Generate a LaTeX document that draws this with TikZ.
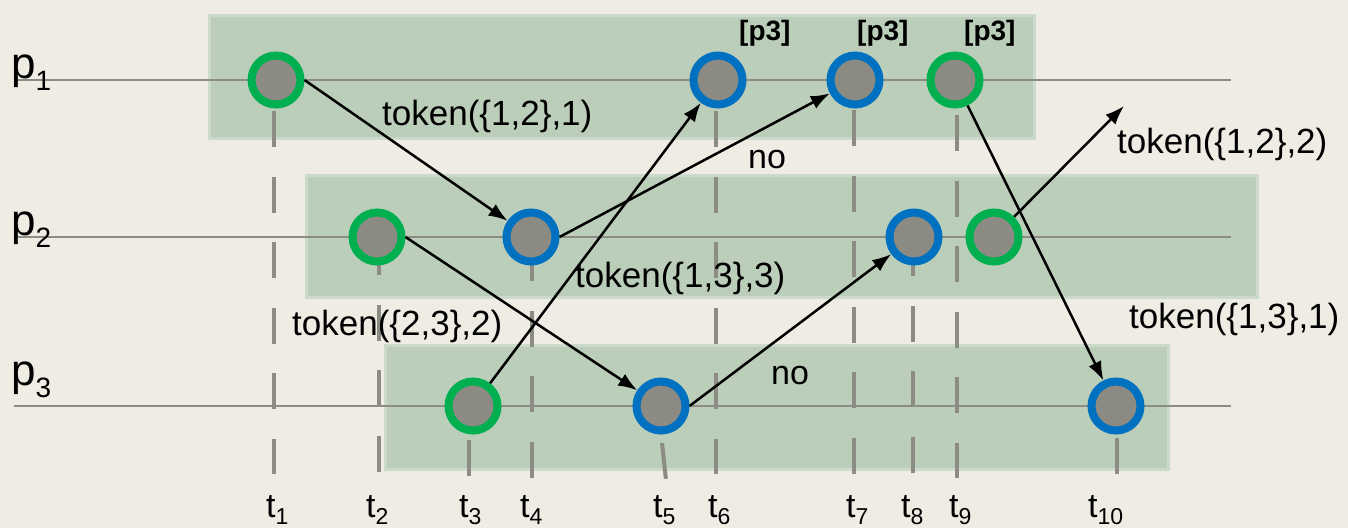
\documentclass[tikz,border=0pt]{standalone}
\usepackage{fontspec}
\setmainfont{Liberation Sans}
\usetikzlibrary{arrows.meta}
\definecolor{paper}{HTML}{EFECE4}
\definecolor{band}{HTML}{BBCEBA}
\definecolor{bandedge}{HTML}{CBDACA}
\definecolor{axis}{HTML}{8C8C85}
\definecolor{core}{HTML}{8B8B84}
\definecolor{sendc}{HTML}{00B050}
\definecolor{recvc}{HTML}{0070C0}
% subscript set in a smaller size, dropped below the baseline
\newcommand\dropsub[3]{\raisebox{-#1}{\fontsize{#2}{#2}\selectfont #3}}

\begin{document}
\begin{tikzpicture}[x=1pt,y=-1pt,
  bandbox/.style={fill=band,draw=bandedge,line width=3pt},
  procline/.style={draw=axis,line width=2pt},
  tick/.style={draw=axis,line width=4pt,dash pattern=on 36pt off 29.5pt},
  ev/.style={circle,fill=core,line width=8pt,minimum size=49pt,inner sep=0pt},
  sendev/.style={ev,draw=sendc},
  recvev/.style={ev,draw=recvc},
  msg/.style={draw=black,line width=2.5pt,-{Latex[length=19pt,width=14pt]}},
  lbl/.style={anchor=base west,inner sep=0pt,font=\fontsize{35}{40}\selectfont},
  nolbl/.style={anchor=base west,inner sep=0pt,font=\fontsize{34}{40}\selectfont},
  tag/.style={anchor=base west,inner sep=0pt,font=\bfseries\fontsize{28}{30}\selectfont},
  tlbl/.style={anchor=base west,inner sep=0pt,font=\fontsize{34}{40}\selectfont},
  plbl/.style={anchor=base west,inner sep=0pt,font=\fontsize{44}{50}\selectfont}
]
% canvas
\fill[paper] (0,0) rectangle (1348,528);
\useasboundingbox (0,0) rectangle (1348,528);

% shaded bands behind each process
\draw[bandbox] (209,15) rectangle (1034,138);
\draw[bandbox] (306,175) rectangle (1257,297);
\draw[bandbox] (385,345) rectangle (1168,469);

% process lines
\draw[procline] (14,80) -- (1231,80);
\draw[procline] (14,237) -- (1231,237);
\draw[procline] (14,406) -- (1231,406);

% time markers
\draw[tick] (274,111) -- (274,474);
\draw[tick] (379,239) -- (379,473);
\draw[tick] (469,440) -- (469,476);
\draw[tick] (532,245) -- (532,478);
\draw[tick] (662,443) -- (666,480);
\draw[tick] (716,111) -- (716,474);
\draw[tick] (854,110) -- (854,474);
\draw[tick] (913,240) -- (913,473);
\draw[tick] (957,115) -- (957,478);
\draw[tick] (1117,438) -- (1117,474);

% events on p1
\node[sendev] (a1) at (276,80) {};
\node[recvev] (a2) at (718,80) {};
\node[recvev] (a3) at (855,80) {};
\node[sendev] (a4) at (955,80) {};
% events on p2
\node[sendev] (b1) at (377,237) {};
\node[recvev] (b2) at (531,237) {};
\node[recvev] (b3) at (914,237) {};
\node[sendev] (b4) at (994,237) {};
% events on p3
\node[sendev] (c1) at (473,406) {};
\node[recvev] (c2) at (661,406) {};
\node[recvev] (c3) at (1116,406) {};

\coordinate (out) at (1124,106);

% messages
\draw[msg] (a1.east) -- (b2);
\draw[msg] (b1.east) -- (c2);
\draw[msg] (c1) -- (a2);
\draw[msg] (b2.east) -- (a3);
\draw[msg] (c2.east) -- (b3);
\draw[msg] (a4) -- (c3);
\draw[msg] (b4) -- (out);

% message labels
\node[lbl] (m1) at (382,125) {token(\{1,2\},1)};
\node[lbl] (m2) at (292,335) {token(\{2,3\},2)};
\node[lbl] (m3) at (575,287) {token(\{1,3\},3)};
\node[lbl] (m4) at (1129,328) {token(\{1,3\},1)};
\node[lbl] (m5) at (1117,153) {token(\{1,2\},2)};
\node[nolbl] (n1) at (748,168) {no};
\node[nolbl] (n2) at (771,384) {no};

% tags above the p1 events
\node[tag] (g1) at (739,40) {[p3]};
\node[tag] (g2) at (857,40) {[p3]};
\node[tag] (g3) at (964,40) {[p3]};

% process names
\node[plbl] (p1) at (11,78) {p\dropsub{12pt}{28}{1}};
\node[plbl] (p2) at (11,235) {p\dropsub{12pt}{28}{2}};
\node[plbl] (p3) at (11,385) {p\dropsub{12pt}{28}{3}};

% time names
\node[tlbl] (t1) at (266,517) {t\dropsub{7pt}{23}{1}};
\node[tlbl] (t2) at (366,517) {t\dropsub{7pt}{23}{2}};
\node[tlbl] (t3) at (459,517) {t\dropsub{7pt}{23}{3}};
\node[tlbl] (t4) at (520,517) {t\dropsub{7pt}{23}{4}};
\node[tlbl] (t5) at (653,517) {t\dropsub{7pt}{23}{5}};
\node[tlbl] (t6) at (708,517) {t\dropsub{7pt}{23}{6}};
\node[tlbl] (t7) at (846,517) {t\dropsub{7pt}{23}{7}};
\node[tlbl] (t8) at (901,517) {t\dropsub{7pt}{23}{8}};
\node[tlbl] (t9) at (949,517) {t\dropsub{7pt}{23}{9}};
\node[tlbl] (t10) at (1088,517) {t\dropsub{7pt}{23}{10}};
\end{tikzpicture}
\end{document}
